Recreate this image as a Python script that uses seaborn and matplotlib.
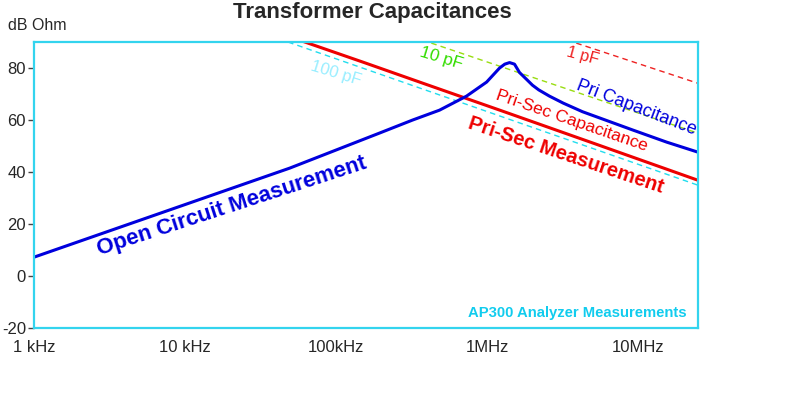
import matplotlib
matplotlib.use('Agg')
import matplotlib.pyplot as plt
import seaborn as sns
import pandas as pd

# Dados (frequência em Hz, impedância em dB Ohm)
freq_aberto = [1e3, 4.92e4, 1.94e5, 3.21e5, 4.84e5, 7.31e5, 9.93e5, 1.21e6, 1.31e6,
               1.41e6, 1.52e6, 1.64e6, 1.83e6, 2.0e6, 2.2e6, 2.59e6, 3.2e6, 4.29e6,
               9.2e6, 15.5e6, 24.8e6]
db_aberto = [7.3, 41.5, 55.0, 60.0, 63.8, 69.2, 74.6, 80.0, 81.5,
             82.1, 81.5, 78.3, 75.6, 73.4, 71.6, 69.2, 66.5, 63.2,
             56.2, 51.5, 47.7]

freq_prisec = [5.0e4, 5.93e4, 1.5e5, 4.0e5, 1.2e6, 5.0e6, 24.8e6]
db_prisec = [92.0, 90.4, 82.3, 73.6, 63.9, 51.2, 36.9]

freq_100pf = [4.8e4, 24.8e6]
db_100pf = [90.0, 35.0]
freq_10pf = [4.27e5, 24.8e6]
db_10pf = [89.6, 55.0]
freq_1pf = [3.9e6, 24.8e6]
db_1pf = [89.6, 74.2]

xticks = [1e3, 1e4, 1e5, 1e6, 1e7]
xlabels = ['1 kHz', '10 kHz', '100kHz', '1MHz', '10MHz']
yticks = [-20, 0, 20, 40, 60, 80]

sns.set_style('white')
plt.rcParams['font.family'] = ['Liberation Sans', 'DejaVu Sans']
plt.rcParams['axes.unicode_minus'] = False

fig = plt.figure(figsize=(8, 3.93), dpi=100)
ax = fig.add_axes([0.043, 0.1654, 0.8295, 0.7276])

df_aberto = pd.DataFrame({'f': freq_aberto, 'db': db_aberto})
df_prisec = pd.DataFrame({'f': freq_prisec, 'db': db_prisec})

# Linhas de referência tracejadas
sns.lineplot(x=freq_100pf, y=db_100pf, ax=ax, color='#22ddee', lw=1, linestyle=(0, (4, 3)))
sns.lineplot(x=freq_10pf, y=db_10pf, ax=ax, color='#99dd11', lw=1, linestyle=(0, (4, 3)))
sns.lineplot(x=freq_1pf, y=db_1pf, ax=ax, color='#ee2222', lw=1, linestyle=(0, (4, 3)))

# Medições
sns.lineplot(data=df_prisec, x='f', y='db', ax=ax, color='#ee0000', lw=2.2, sort=False)
sns.lineplot(data=df_aberto, x='f', y='db', ax=ax, color='#0000dd', lw=2.2, sort=False)

ax.set_xscale('log')
ax.set_xlim(1e3, 25e6)
ax.set_ylim(-20, 90)
ax.set_xticks(xticks)
ax.set_xticklabels(xlabels)
ax.minorticks_off()
ax.set_yticks(yticks)
ax.tick_params(axis='y', length=4, width=1, color='#444444', labelsize=12, pad=2, left=True)
ax.tick_params(axis='x', length=0, labelsize=12, pad=9)
ax.set_xlabel('')
ax.set_ylabel('')

for s in ax.spines.values():
    s.set_color('#33d4ee')
    s.set_linewidth(1.6)

fig.text(0.466, 0.969, 'Transformer Capacitances', ha='center', va='center',
         fontsize=16, fontweight='bold')
fig.text(0.01, 0.935, 'dB Ohm', ha='left', va='center', fontsize=11.5)

# Anotações
ax.text(2.03e4, 26.8, 'Open Circuit Measurement', color='#0000dd', fontsize=16,
        fontweight='bold', rotation=18, ha='center', va='center')
ax.text(3.31e6, 46.5, 'Pri-Sec Measurement', color='#ee0000', fontsize=14.5,
        fontweight='bold', rotation=-18.5, ha='center', va='center')
ax.text(3.63e6, 59.6, 'Pri-Sec Capacitance', color='#ee0000', fontsize=12.6,
        rotation=-19, ha='center', va='center')
ax.text(9.7e6, 64.8, 'Pri Capacitance', color='#0000dd', fontsize=13,
        rotation=-21, ha='center', va='center')
ax.text(5.0e5, 83.8, '10 pF', color='#33dd00', fontsize=12.4, rotation=-17,
        ha='center', va='center')
ax.text(4.3e6, 84.6, '1 pF', color='#ee2222', fontsize=11.8, rotation=-15,
        ha='center', va='center')
ax.text(9.9e4, 78, '100 pF', color='#99eeff', fontsize=12, rotation=-17,
        ha='center', va='center')
ax.text(0.983, 0.052, 'AP300 Analyzer Measurements', color='#11ccee', fontsize=10.7,
        fontweight='bold', ha='right', va='center', transform=ax.transAxes)

fig.savefig('out.png', dpi=100)
